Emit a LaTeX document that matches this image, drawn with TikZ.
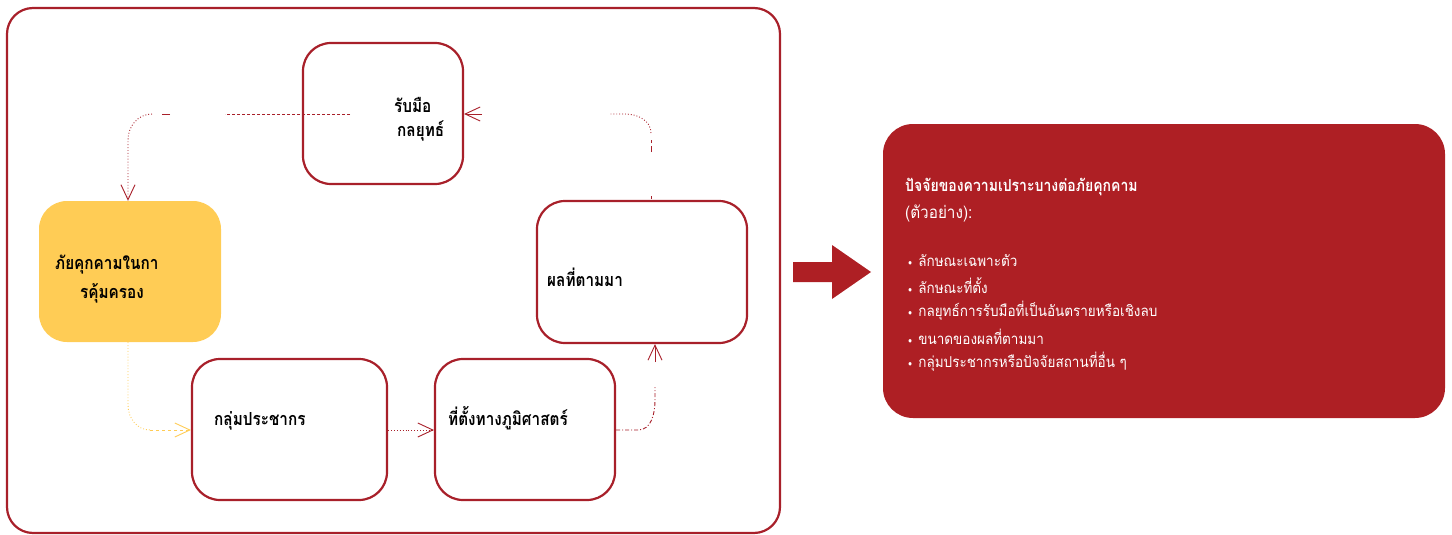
\documentclass[tikz,border=0pt]{standalone}
\usepackage{fontspec}
\usetikzlibrary{arrows.meta}
\newfontfamily\thaib[Script=Thai,FakeStretch=0.85]{Loma}
\newfontfamily\thaih[Script=Thai,FakeStretch=0.85]{Loma}
\newfontfamily\thair[Script=Thai,FakeStretch=0.9]{Loma}
\definecolor{dred}{HTML}{A8202A}
\definecolor{fred}{HTML}{AE1F24}
\definecolor{ylw}{HTML}{FFCC55}
\tikzset{
  box/.style={draw=dred, line width=2.2pt, fill=white, rounded corners=28pt, inner sep=0pt},
  lbl/.style={font=\thaib\bfseries\fontsize{18}{20}\selectfont, inner sep=0pt, anchor=west},
  rlbl/.style={font=\thair\fontsize{15}{17}\selectfont, inner sep=0pt, anchor=west, text=white},
  con/.style={draw=dred, line width=0.9pt},
  tip/.style={-{Straight Barb[length=15pt,width=14pt,line width=0.9pt]}},
}
\newcommand{\bul}{{\fontsize{10}{10}\selectfont•}\hspace{6pt}}
\begin{document}
\begin{tikzpicture}[x=1pt,y=-1pt]
\useasboundingbox (0,0) rectangle (1452,535);
% outer frame
\node[draw=dred, line width=2.2pt, rounded corners=26pt, minimum width=773pt, minimum height=525pt, inner sep=0pt] (frame) at (393.5,270.5) {};
% boxes
\node[box, minimum width=160pt, minimum height=141pt] (rb) at (383,113.5) {};
\node[fill=ylw, rounded corners=28pt, minimum width=182pt, minimum height=141pt, inner sep=0pt] (th) at (130,271.5) {};
\node[box, minimum width=195pt, minimum height=141pt] (pop) at (289.5,429.5) {};
\node[box, minimum width=180pt, minimum height=141pt] (geo) at (525,429.5) {};
\node[box, minimum width=210pt, minimum height=142pt] (res) at (642,272) {};
% labels
\node[lbl] (t1) at (394,105) {รับมือ};
\node[lbl] (t2) at (397,131) {กลยุทธ์};
\node[lbl] (t3) at (55,265) {ภัยคุกคามในกา};
\node[lbl] (t4) at (80,293) {รคุ้มครอง};
\node[lbl] (t5) at (214,421) {กลุ่มประชากร};
\node[lbl] (t6) at (448,418) {ที่ตั้งทางภูมิศาสตร์};
\node[lbl] (t7) at (547,277) {ผลที่ตามมา};
% connectors
\coordinate (a1) at (350,114);
\coordinate (a2) at (225,114);
\coordinate (a3) at (170,114);
\draw[con, dashed, dash pattern=on 3pt off 2pt] (a1) -- (a2);
\draw[con] (a3) -- (162,114);
\draw[con, dotted, tip] (152,114) to[out=180,in=90] (128,140) -- (th.north -| 128,0);
\draw[con] (651,199) -- (651,196);
\draw[con, dash pattern=on 6pt off 3pt] (651,152) -- (651,140);
\draw[con, dotted] (651,133) to[out=90,in=0] (625,114) -- (610,114);
\draw[con, tip] (482,114) -- (rb.east |- 0,114);
\draw[draw=ylw, line width=0.9pt, dotted] (th.south -| 128,0) -- (128,405) to[out=270,in=180] (150,430);
\draw[draw=ylw, line width=0.9pt, dashed, tip] (150,430) -- (pop.west |- 0,430);
\draw[con, dotted, tip] (pop.east |- 0,430) -- (geo.west |- 0,430);
\draw[con, dash pattern=on 4pt off 2pt on 1pt off 2pt] (geo.east |- 0,430) -- (638,430) to[out=0,in=270] (655,400) -- (655,387);
\draw[con, tip] (655,362) -- (res.south -| 655,0);
% big arrow
\fill[fred] (793,262) -- (832,262) -- (832,245) -- (871,272) -- (832,299) -- (832,282) -- (793,282) -- cycle;
% right box
\node[fill=fred, rounded corners=30pt, minimum width=562pt, minimum height=294pt, inner sep=0pt] (fac) at (1164,271) {};
\node[lbl, font=\thaih\bfseries\fontsize{16.5}{18}\selectfont, text=white] (h1) at (905,187) {ปัจจัยของความเปราะบางต่อภัยคุกคาม};
\node[rlbl, font=\thair\fontsize{17}{19}\selectfont] (h2) at (905,213) {(ตัวอย่าง):};
\node[rlbl] (i1) at (908,261) {\bul ลักษณะเฉพาะตัว};
\node[rlbl] (i2) at (908,286) {\bul ลักษณะที่ตั้ง};
\node[rlbl] (i3) at (908,311) {\bul กลยุทธ์การรับมือที่เป็นอันตรายหรือเชิงลบ};
\node[rlbl] (i4) at (908,337) {\bul ขนาดของผลที่ตามมา};
\node[rlbl] (i5) at (908,362) {\bul กลุ่มประชากรหรือปัจจัยสถานที่อื่น ๆ};
\end{tikzpicture}
\end{document}
